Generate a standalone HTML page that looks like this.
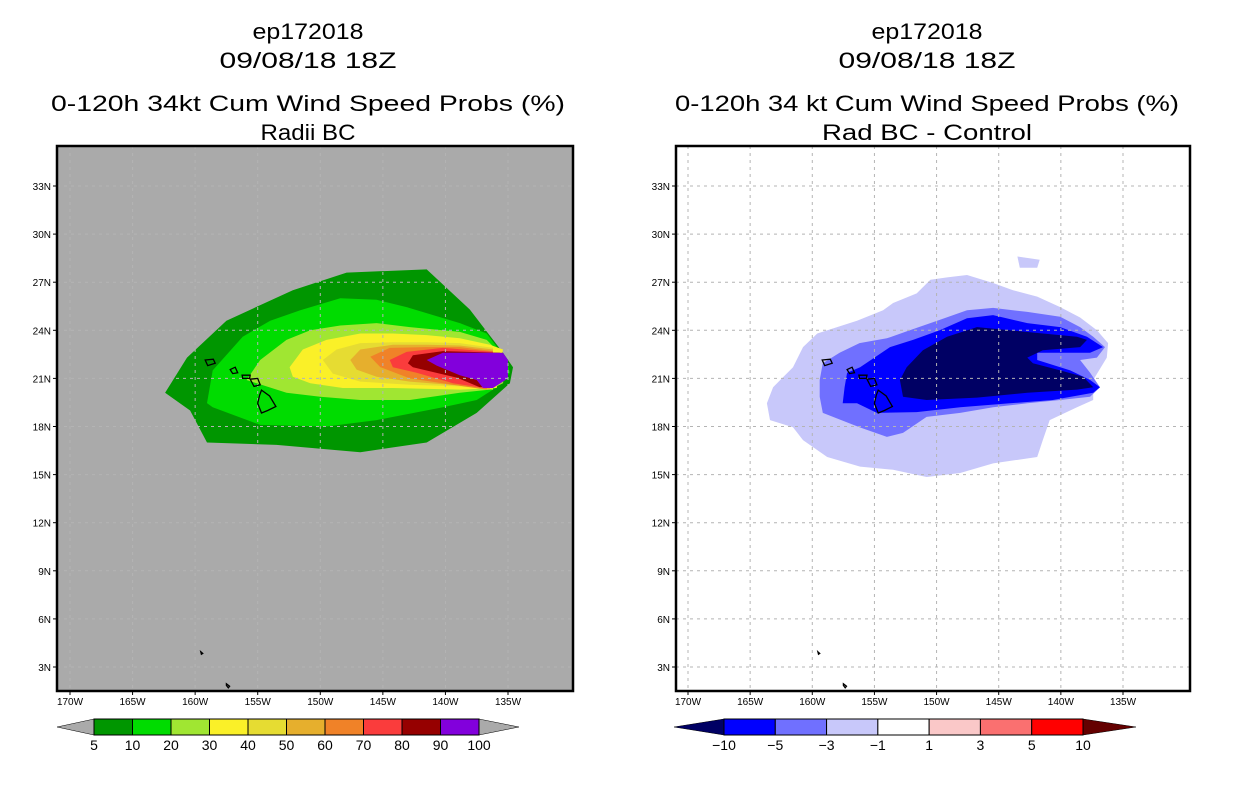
<!DOCTYPE html>
<html><head><meta charset="utf-8"><style>
html,body{margin:0;padding:0;background:#fff;width:1236px;height:800px;overflow:hidden}
svg{display:block}
text{font-family:"Liberation Sans",sans-serif;fill:#000}
</style></head><body>
<svg id="chart" width="1236" height="800" viewBox="0 0 1236 800" xmlns="http://www.w3.org/2000/svg"></svg>
<script>
// ---- data ----
const lonTicks = [170,165,160,155,150,145,140,135];
const latTicks = [33,30,27,24,21,18,15,12,9,6,3];
const leftLevels = ['5','10','20','30','40','50','60','70','80','90','100'];
const leftColors = ['#009600','#00dc00','#a0e632','#faf028','#e6dc32','#e6af2d','#f08228','#fa3c3c','#960000','#8200dc'];
const rightLevels = ['-10','-5','-3','-1','1','3','5','10'];
const rightColors = ['#0000ff','#7070ff','#c8c8fa','#ffffff','#fac8c8','#fa7070','#ff0000'];
const rightEnds = ['#000064','#640000'];
// contours: [lonW, latN]
const p5 = [[162.4,20.1],[160.65,22.3],[157.5,24.6],[152.2,26.5],[147.9,27.6],[141.5,27.8],[138.05,25.3],[135.4,22.6],[134.6,21.7],[134.85,20.7],[137.5,18.85],[141.5,17.0],[146.8,16.4],[153.5,16.85],[159.05,17.0],[160.4,19.0]];
const p10 = [[159.05,19.46],[158.6,21.5],[156.2,23.6],[154.0,24.6],[151.6,25.25],[148.4,26.0],[145.5,25.9],[143.1,25.45],[138.85,24.45],[136.7,23.8],[135.1,22.15],[134.85,21.35],[135.9,20.45],[137.5,19.65],[140.2,19.2],[145.5,18.4],[149.5,18.0],[154.8,18.1],[158.6,19.2]];
const p20 = [[155.9,20.9],[154.8,22.15],[152.7,23.4],[150.8,24.0],[148.4,24.3],[145.5,24.45],[142.85,24.2],[138.85,23.9],[136.7,23.4],[135.1,22.15],[135.4,20.7],[136.45,20.3],[138.85,20.1],[142.85,19.65],[146.8,19.65],[150.0,19.85],[152.7,20.1]];
const p30 = [[152.45,21.7],[151.4,22.8],[149.5,23.4],[146.8,23.8],[144.2,23.8],[141.5,23.7],[138.85,23.5],[136.45,23.1],[135.4,22.8],[135.9,20.4],[138.85,20.3],[144.2,20.4],[148.2,20.4],[150.8,20.7],[152.2,21.1]];
const p40 = [[149.8,22.15],[148.7,22.8],[146.8,23.2],[144.2,23.25],[141.5,23.25],[138.85,23.2],[136.2,22.9],[136.2,20.3],[138.85,20.5],[142.85,20.6],[146.8,20.8],[149.0,21.3]];
const p50 = [[147.6,22.15],[146.8,22.8],[144.2,23.1],[141.5,23.1],[138.85,23.05],[136.2,22.8],[136.45,20.3],[138.85,20.55],[142.85,20.8],[145.5,21.1],[147.1,21.55]];
const p60 = [[146.0,22.35],[144.45,22.9],[141.5,22.95],[138.85,22.95],[136.2,22.7],[136.7,20.3],[139.4,20.6],[142.85,21.0],[145.2,21.7]];
const p70 = [[144.45,22.15],[143.1,22.65],[140.2,22.9],[136.2,22.65],[136.9,20.4],[139.4,20.7],[142.3,21.35],[144.2,21.7]];
const p80 = [[143.0,21.95],[142.6,22.45],[140.2,22.7],[135.65,22.6],[136.2,20.5],[137.25,20.45],[139.1,21.05],[141.0,21.4],[142.6,21.7]];
const p90 = [[141.5,22.15],[140.2,22.6],[135.4,22.6],[135.0,22.15],[135.0,21.0],[136.2,20.4],[137.0,20.4],[137.5,20.9],[138.85,21.2],[140.7,21.8]];
const q1 = [[163.65,19.45],[163.15,20.45],[161.55,21.7],[160.75,22.95],[159.6,23.8],[158.0,24.2],[156.4,24.6],[154.3,25.25],[153.5,25.7],[151.6,26.3],[150.5,27.15],[149.15,27.3],[147.55,27.45],[145.45,26.95],[143.85,26.5],[141.9,26.1],[140.05,25.45],[138.45,24.8],[137.1,24.0],[136.2,23.2],[136.3,22.3],[137.4,20.9],[137.4,19.65],[138.7,19.2],[140.9,18.4],[141.45,17.15],[141.9,16.1],[145.45,15.7],[148.1,15.1],[150.8,14.85],[153.5,15.3],[156.15,15.5],[158.8,16.1],[160.75,17.15],[161.55,17.95],[163.4,18.4]];
const q1b = [[143.5,28.6],[141.7,28.4],[141.9,27.9],[143.3,27.9]];
const q3 = [[159.4,20.9],[159.15,21.95],[157.8,22.6],[156.2,23.2],[154.0,23.5],[152.15,24.0],[149.75,24.65],[147.55,25.25],[145.45,25.4],[142.7,25.15],[140.05,24.85],[138.45,24.2],[137.4,23.6],[136.45,22.95],[137.1,22.3],[138.45,22.15],[137.65,21.35],[136.85,20.45],[137.65,19.85],[140.05,19.65],[142.7,19.45],[145.45,19.2],[148.1,18.85],[150.8,18.6],[152.7,17.6],[154.0,17.35],[156.2,17.95],[159.15,18.85],[159.4,19.85]];
const q5 = [[157.55,19.45],[157.4,20.45],[157.2,21.35],[156.15,21.7],[153.75,22.95],[151.9,23.4],[149.75,24.0],[147.55,24.75],[145.45,24.95],[142.7,24.45],[140.05,24.2],[137.9,23.6],[136.6,22.95],[137.65,22.6],[141.9,22.6],[141.9,22.15],[139.25,21.5],[137.65,20.9],[136.85,20.45],[137.4,20.1],[140.65,19.65],[144.1,19.45],[148.1,19.2],[151.6,18.9],[154.8,18.85],[156.4,19.45]];
const q10 = [[152.95,20.9],[152.4,21.7],[151.1,22.75],[149.15,23.6],[146.75,24.2],[144.1,24.0],[141.45,23.8],[138.7,23.6],[137.9,23.4],[138.45,22.95],[141.45,22.75],[142.7,22.3],[142.25,21.95],[140.05,21.5],[138.2,21.1],[137.4,20.45],[138.7,20.3],[142.7,20.1],[146.75,19.8],[150.8,19.65],[152.7,19.85]];
const islands = [
 [[154.7,20.27],[154.05,19.9],[153.55,19.25],[154.2,19.0],[154.7,18.84],[155.0,19.45],[154.85,19.95]],
 [[155.6,20.95],[155.0,21.0],[154.8,20.6],[155.3,20.5]],
 [[156.25,21.2],[155.6,21.2],[155.65,21.0],[156.2,21.0]],
 [[157.2,21.55],[156.8,21.7],[156.6,21.35],[157.0,21.3]],
 [[159.2,22.15],[158.55,22.2],[158.4,21.95],[159.0,21.8]],
 [[159.55,3.95],[159.4,3.85],[159.5,3.8]],
 [[157.5,1.95],[157.25,1.8],[157.35,1.7],[157.5,1.85]]
];
// ---- drawing ----
const NS='http://www.w3.org/2000/svg';
const svg=document.getElementById('chart');
function el(t,a,p){const e=document.createElementNS(NS,t);for(const k in a)e.setAttribute(k,a[k]);(p||svg).appendChild(e);return e;}
function makeProj(x170,x135){const k=(x135-x170)/35;return{x:w=>x170+(170-w)*k,y:l=>186+(33-l)*(481/30)};}
const panels=[
 {id:'left',fx:57,fw:516,bg:'#aaaaaa',proj:makeProj(70,508),cx:308,l3:'0-120h 34kt Cum Wind Speed Probs (%)',l3w:514,l4:'Radii BC',l4w:95,
  polys:[[p5,0],[p10,1],[p20,2],[p30,3],[p40,4],[p50,5],[p60,6],[p70,7],[p80,8],[p90,9]].map(([p,i])=>[p,leftColors[i],'contour-'+leftLevels[i]])},
 {id:'right',fx:676,fw:514,bg:'#ffffff',proj:makeProj(688,1123),cx:927,l3:'0-120h 34 kt Cum Wind Speed Probs (%)',l3w:504,l4:'Rad BC - Control',l4w:210,
  polys:[[q1,rightColors[2],'contour-minus1'],[q1b,rightColors[2],'contour-minus1-blob'],[q3,rightColors[1],'contour-minus3'],[q5,rightColors[0],'contour-minus5'],[q10,rightEnds[0],'contour-minus10']]}
];
panels.forEach(P=>{
  const g=el('g',{});
  
  
  const t1=el('text',{x:P.cx,y:39,'font-size':22,'text-anchor':'middle',textLength:111,lengthAdjust:'spacingAndGlyphs'},g);t1.textContent='ep172018';
  
  const t2=el('text',{x:P.cx,y:68,'font-size':22,'text-anchor':'middle',textLength:177,lengthAdjust:'spacingAndGlyphs'},g);t2.textContent='09/08/18 18Z';
  
  const t3=el('text',{x:P.cx,y:111,'font-size':22,'text-anchor':'middle',textLength:P.l3w,lengthAdjust:'spacingAndGlyphs'},g);t3.textContent=P.l3;
  
  const t4=el('text',{x:P.cx,y:140,'font-size':22,'text-anchor':'middle',textLength:P.l4w,lengthAdjust:'spacingAndGlyphs'},g);t4.textContent=P.l4;
  
  const cid='clip-'+P.id;
  const cp=el('clipPath',{id:cid},g);el('rect',{x:P.fx,y:146,width:P.fw,height:545},cp);
  const bg=el('rect',{x:P.fx,y:146,width:P.fw,height:545,fill:P.bg},g);
  
  const mg=el('g',{'clip-path':'url(#'+cid+')'},g);
  P.polys.forEach(([pts,c,n])=>{
    const pl=el('polygon',{points:pts.map(q=>P.proj.x(q[0]).toFixed(1)+','+P.proj.y(q[1]).toFixed(1)).join(' '),fill:c},mg);
    
    
  });
  lonTicks.forEach(w=>{const x=P.proj.x(w);const ln=el('line',{x1:x,x2:x,y1:146,y2:691,stroke:'#b4b4b4','stroke-dasharray':'3,4','stroke-width':1},mg);
    });
  latTicks.forEach(l=>{const y=P.proj.y(l);const ln=el('line',{x1:P.fx,x2:P.fx+P.fw,y1:y,y2:y,stroke:'#b4b4b4','stroke-dasharray':'3,4','stroke-width':1},mg);
    });
  islands.forEach(p=>{const pl=el('polygon',{points:p.map(q=>P.proj.x(q[0]).toFixed(1)+','+P.proj.y(q[1]).toFixed(1)).join(' '),fill:'none',stroke:'#000','stroke-width':1.3},mg);
    });
  const fr=el('rect',{x:P.fx,y:146,width:P.fw,height:545,fill:'none',stroke:'#000','stroke-width':2.5},g);
  
  latTicks.forEach(l=>{const y=P.proj.y(l);
    el('line',{x1:P.fx-4,x2:P.fx,y1:y,y2:y,stroke:'#000'},g);
    const t=el('text',{x:P.fx-6,y:y+4,'font-size':10,'text-anchor':'end'},g);t.textContent=l+'N';
    });
  lonTicks.forEach(w=>{const x=P.proj.x(w);
    el('line',{x1:x,x2:x,y1:691,y2:695,stroke:'#000'},g);
    const t=el('text',{x:x,y:705,'font-size':10,'text-anchor':'middle'},g);t.textContent=w+'W';
    });
});
// colorbars
function colorbar(name,x0,x1,tipL,tipR,cols,endL,endR,labels){
  const g=el('g',{});
  
  
  const y0=719,y1=735,ym=727,n=cols.length,w=(x1-x0)/n;
  el('polygon',{points:`${tipL},${ym} ${x0},${y0} ${x0},${y1}`,fill:endL,stroke:'#000','stroke-width':0.5},g);
  el('polygon',{points:`${tipR},${ym} ${x1},${y0} ${x1},${y1}`,fill:endR,stroke:'#000','stroke-width':0.5},g);
  cols.forEach((c,i)=>{const r=el('rect',{x:x0+i*w,y:y0,width:w,height:y1-y0,fill:c,stroke:'#000','stroke-width':1},g);
    });
  labels.forEach((s,i)=>{const t=el('text',{x:x0+i*w,y:750,'font-size':14,'text-anchor':'middle'},g);t.textContent=s.replace('-','\u2212');
    });
}
colorbar('left-colorbar',94,479,57,519,leftColors,'#aaaaaa','#aaaaaa',leftLevels);
colorbar('right-colorbar',724,1083,674,1136,rightColors,rightEnds[0],rightEnds[1],rightLevels);
</script>
</body></html>
